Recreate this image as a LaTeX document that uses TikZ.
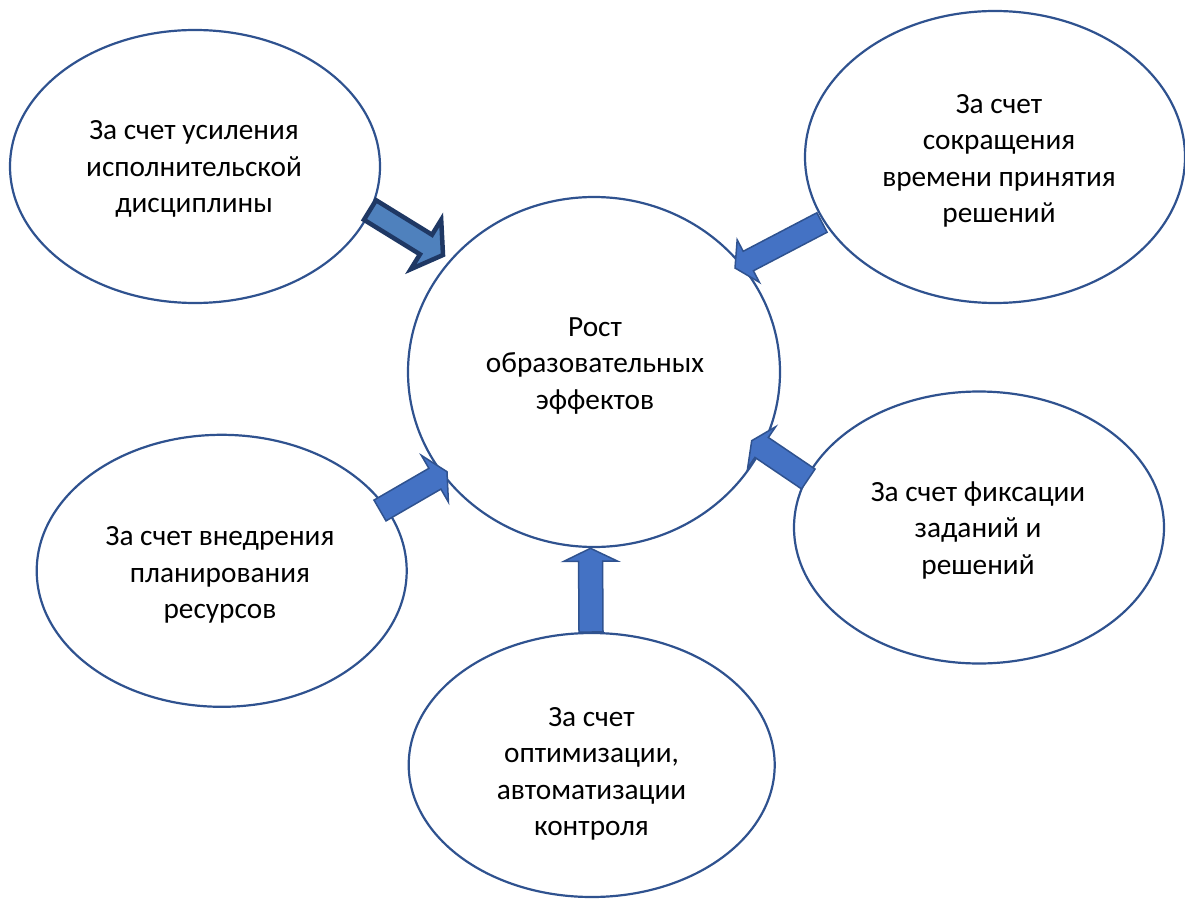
\documentclass[tikz,border=0pt]{standalone}
\usepackage{fontspec}
\setmainfont{Carlito}
\usetikzlibrary{calc,shapes.geometric}
\definecolor{ol}{HTML}{2F528F}
\definecolor{af}{HTML}{4472C4}
\definecolor{aftwo}{HTML}{4F81BD}
\definecolor{oltwo}{HTML}{1F3864}
\tikzset{
 ell/.style={ellipse, draw=ol, line width=2.2pt, fill=white, inner sep=0pt},
 lbl/.style={align=center, font=\fontsize{29.3}{36.5}\selectfont, inner sep=0pt},
 barrow/.style={fill=af, draw=ol, line width=1.5pt, line join=miter},
 darrow/.style={fill=aftwo, draw=oltwo, line width=4.5pt, line join=miter},
}
% #1 style, #2 tail, #3 tip, #4 shaft half width, #5 head half width, #6 head length
\newcommand\blockarr[6]{%
 \coordinate (#2#3n) at ($(#3)!#6!(#2)$);
 \draw[#1] ($(#2)!#4!90:(#3)$) -- ($(#2#3n)!#4!90:(#3)$) -- ($(#2#3n)!#5!90:(#3)$) -- (#3)
   -- ($(#2#3n)!#5!-90:(#3)$) -- ($(#2#3n)!#4!-90:(#3)$) -- ($(#2)!#4!-90:(#3)$) -- cycle;}
\begin{document}
\begin{tikzpicture}[x=1pt,y=-1pt]
\path[use as bounding box] (0,0) rectangle (1185,901);
% ellipses
\node[ell, minimum width=370pt, minimum height=273pt] (e1) at (195,166.5) {};
\node[ell, minimum width=380pt, minimum height=292pt] (e2) at (995,157) {};
\node[ell, minimum width=372pt, minimum height=350pt] (c) at (594,372) {};
\node[ell, minimum width=370pt, minimum height=272pt] (e3) at (979,527.5) {};
\node[ell, minimum width=370pt, minimum height=272pt] (e4) at (221.7,570.8) {};
\node[ell, minimum width=366pt, minimum height=264pt] (e5) at (591.7,765) {};
% labels
\node[lbl] (t1) at (194,169) {За счет усиления\\исполнительской\\дисциплины};
\node[lbl] (t2) at (999,161) {За счет\\сокращения\\времени принятия\\решений};
\node[lbl] (tc) at (595,366) {Рост\\образовательных\\эффектов};
\node[lbl] (t3) at (978,530) {За счет фиксации\\заданий и\\решений};
\node[lbl] (t4) at (220,575) {За счет внедрения\\планирования\\ресурсов};
\node[lbl] (t5) at (591.5,774) {За счет\\оптимизации,\\автоматизации\\контроля};
% arrow end points
\coordinate (a1t) at (370,210);   \coordinate (a1h) at (443,255);
\coordinate (a2t) at (822,222.5); \coordinate (a2h) at (735,268);
\coordinate (a3t) at (808.3,479); \coordinate (a3h) at (751.7,440.7);
\coordinate (a4t) at (380,510.5); \coordinate (a4h) at (447,471.7);
\coordinate (a5t) at (591,632);   \coordinate (a5h) at (590.5,548.3);
\blockarr{darrow}{a1t}{a1h}{11.5pt}{29pt}{20pt}
\blockarr{barrow}{a2t}{a2h}{11pt}{24pt}{15pt}
\blockarr{barrow}{a3t}{a3h}{12pt}{25pt}{12pt}
\blockarr{barrow}{a4t}{a4h}{12pt}{27pt}{14pt}
\blockarr{barrow}{a5t}{a5h}{12pt}{27pt}{13pt}
\end{tikzpicture}
\end{document}
